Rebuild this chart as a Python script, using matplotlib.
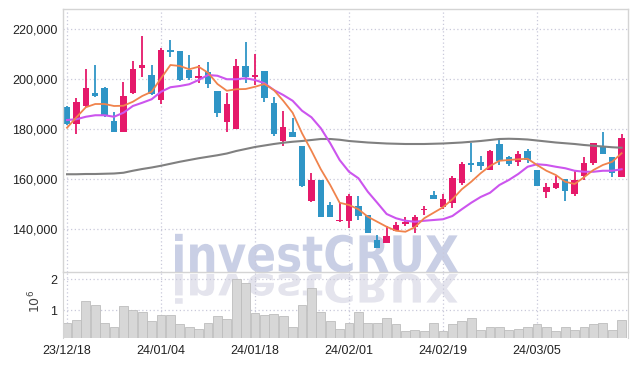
import matplotlib
matplotlib.use('Agg')
import matplotlib.pyplot as plt
from matplotlib.textpath import TextPath
from matplotlib.patches import PathPatch
from matplotlib.font_manager import FontProperties
from matplotlib.transforms import Affine2D, IdentityTransform
from matplotlib.ticker import FuncFormatter, FixedLocator
import numpy as np

# ---------------- data ----------------
opens = [188700, 182000, 189200, 194500, 196400, 183300, 178900, 194500, 204500, 201600,
         191600, 211600, 211200, 203600, 200300, 202700, 195200, 182900, 180000, 205200,
         200700, 203200, 190300, 175300, 178800, 173200, 151300, 159600, 149600, 143200,
         143300, 149200, 145600, 135600, 134500, 139300, 141900, 140700, 147500, 153500,
         148900, 150500, 158300, 166500, 166800, 163600, 174000, 168700, 166800, 171200,
         163600, 154900, 156500, 160000, 154000, 161200, 166300, 173200, 168700, 160700]
closes = [182000, 190900, 196400, 193300, 185500, 178700, 193200, 203900, 205700, 194000,
          211600, 210800, 199600, 200500, 201100, 197900, 186500, 190000, 205200, 200900,
          201600, 192500, 178000, 180700, 176900, 157300, 159600, 144900, 144900, 143600,
          153300, 145200, 138300, 132400, 137200, 141500, 142900, 144700, 147700, 151900,
          152000, 160400, 166000, 165500, 165300, 171200, 167300, 166000, 169900, 167600,
          157300, 156700, 158300, 155300, 159600, 166500, 174300, 169900, 162300, 176300]
highs = [189200, 192300, 203900, 205600, 197000, 186900, 198700, 207300, 217200, 205600,
         212300, 215600, 211200, 209600, 205600, 206700, 195200, 194500, 207900, 214700,
         210000, 203200, 192900, 187300, 184300, 173200, 162300, 159600, 150900, 150300,
         153900, 153200, 145600, 137600, 141400, 142900, 144900, 145600, 149200, 155300,
         154000, 161200, 166800, 174500, 169200, 171600, 175600, 169200, 171200, 171900,
         163600, 158300, 161200, 160000, 163600, 168700, 174500, 178900, 168700, 177900]
lows = [181600, 177900, 188900, 192900, 185000, 178700, 178900, 194200, 200900, 193600,
        190000, 208900, 199300, 199600, 198500, 196300, 184900, 178700, 180000, 198300,
        197600, 190700, 177200, 173200, 176900, 156900, 150900, 144900, 144900, 143000,
        140300, 143600, 138300, 132400, 134500, 139300, 141200, 138300, 145600, 151900,
        148000, 148300, 157600, 162900, 163600, 163600, 165600, 165200, 165200, 166500,
        157300, 152300, 155900, 151200, 153200, 159600, 165500, 169900, 160700, 160700]

ma_short = [180500, 184700, 188700, 190000, 190000, 189200, 189300, 190900, 193200, 194900,
            200300, 205600, 205200, 203900, 204900, 202500, 198000, 195300, 195900, 196000,
            196900, 198000, 195600, 191300, 186500, 178300, 171300, 163900, 157600, 150500,
            149600, 147900, 144900, 142900, 140900, 139300, 138900, 140700, 144300, 146500,
            148700, 151900, 155900, 158900, 162300, 165200, 167300, 167600, 167900, 168100,
            165600, 163300, 161600, 158900, 158000, 160700, 163600, 165600, 166900, 170300]
ma_mid = [183600, 183900, 184900, 185500, 185500, 184900, 186500, 189200, 190500, 191900,
          194900, 196700, 197200, 197900, 199600, 201600, 201300, 199900, 199900, 200300,
          199600, 198300, 195600, 193600, 191300, 187300, 184700, 180300, 174300, 167600,
          162900, 160300, 154900, 150500, 146000, 144300, 143300, 142900, 143300, 143600,
          143900, 145200, 147900, 150500, 152800, 154500, 157600, 159600, 162000, 164900,
          165900, 165600, 164900, 164300, 163300, 162900, 162900, 163300, 163300, 163900]
ma_long = [161900, 161900, 162000, 162000, 162100, 162200, 162500, 163300, 164000, 164600,
           165300, 166100, 166900, 167600, 168300, 168900, 169500, 170200, 171200, 172000,
           172800, 173400, 174000, 174500, 174900, 175200, 175600, 176000, 176000, 175700,
           175200, 174900, 174600, 174400, 174200, 174100, 174000, 174000, 174000, 174100,
           174200, 174400, 174600, 174900, 175200, 175600, 176000, 176100, 176000, 175800,
           175400, 175000, 174600, 174300, 174000, 173600, 173300, 173000, 172700, 172500]
volume = [0.57, 0.67, 1.28, 1.18, 0.57, 0.47, 1.12, 1.00, 0.93, 0.64,
          0.83, 0.83, 0.54, 0.44, 0.38, 0.60, 0.80, 0.70, 2.02, 1.89,
          0.90, 0.83, 0.89, 0.80, 0.44, 1.15, 1.70, 0.93, 0.64, 0.38,
          0.60, 0.93, 0.57, 0.57, 0.76, 0.54, 0.31, 0.35, 0.31, 0.60,
          0.31, 0.54, 0.64, 0.76, 0.35, 0.44, 0.44, 0.35, 0.38, 0.44,
          0.54, 0.47, 0.31, 0.47, 0.35, 0.44, 0.54, 0.57, 0.35, 0.67]
volume = [v * 1e6 for v in volume]
tick_pos = [0, 10, 20, 30, 40, 50]
tick_labels = ['23/12/18', '24/01/04', '24/01/18', '24/02/01', '24/02/19', '24/03/05']
price_ticks = [140000, 160000, 180000, 200000, 220000]

# ---------------- style ----------------
UP = '#e5196a'
DOWN = '#2f95c6'
GRID = '#c9c9da'
FONT = ['Liberation Sans', 'DejaVu Sans']
plt.rcParams['font.family'] = FONT

W, H = 636, 366
fig = plt.figure(figsize=(W / 100, H / 100), dpi=100)
fig.patch.set_facecolor('white')

L, R = 63, 628
ax = fig.add_axes([L / W, 1 - 272 / H, (R - L) / W, (272 - 9) / H])
axv = fig.add_axes([L / W, 1 - 338 / H, (R - L) / W, (338 - 272) / H], sharex=ax)
for a in (ax, axv):
    a.patch.set_alpha(0)

# ---------------- watermark ----------------
fp = FontProperties(family='DejaVu Sans', weight='bold')
tp = TextPath((0, 0), 'investCRUX', size=50, prop=fp)
ext = tp.get_extents()
capP = TextPath((0, 0), 'C', size=50, prop=fp).get_extents()
sx = (458 - 175) / ext.width
sy = 38 / capP.height
t_main = Affine2D().translate(-ext.x0, 0).scale(sx, sy).translate(175, H - 272)
t_refl = Affine2D().translate(-ext.x0, 0).scale(sx, -sy * 0.78).translate(175, H - 274)
p1 = PathPatch(tp, transform=t_main + IdentityTransform(), facecolor='#c9cfe5',
               edgecolor='none', zorder=-2)
p2 = PathPatch(tp, transform=t_refl + IdentityTransform(), facecolor='#e4e4ed',
               edgecolor='none', zorder=-2)
fig.add_artist(p1)
fig.add_artist(p2)

# ---------------- candles ----------------
x = np.arange(len(opens))
o = np.array(opens); c = np.array(closes)
colors = [UP if cc >= oo else DOWN for oo, cc in zip(o, c)]
ax.vlines(x, lows, highs, colors=colors, linewidth=1.3, zorder=2)
bottom = np.minimum(o, c)
height = np.maximum(np.abs(c - o), 500)
ax.bar(x, height, bottom=bottom, width=0.68, color=colors, linewidth=0, zorder=2)

ax.plot(x, ma_long, color='#808080', lw=1.5, zorder=3)
ax.plot(x, ma_mid, color='#cc55ee', lw=1.5, zorder=3)
ax.plot(x, ma_short, color='#f0834c', lw=1.3, zorder=3)

ax.set_ylim(122800, 228000)
ax.set_xlim(-0.43, 59.68)
ax.yaxis.set_major_locator(FixedLocator(price_ticks))
ax.yaxis.set_major_formatter(FuncFormatter(lambda v, p: f'{int(v):,}'))
ax.grid(True, color=GRID, linestyle=(0, (1, 2)), linewidth=0.9)
ax.set_axisbelow(True)
ax.tick_params(axis='y', length=0, pad=4, labelsize=9, labelcolor='#222222')
ax.tick_params(axis='x', length=0, labelbottom=False)
for s in ('left', 'top', 'right', 'bottom'):
    ax.spines[s].set_color('#d4d4d4')
    ax.spines[s].set_linewidth(1.0)

# ---------------- volume ----------------
axv.bar(x, volume, width=0.94, color='#d7d7d7', edgecolor='#bdbdbd', linewidth=0.6, zorder=2)
axv.set_ylim(0.1e6, 2.23e6)
axv.yaxis.set_major_locator(FixedLocator([1e6, 2e6]))
axv.yaxis.set_major_formatter(FuncFormatter(lambda v, p: f'{int(round(v / 1e6))}'))
axv.grid(True, color=GRID, linestyle=(0, (1, 2)), linewidth=0.9)
axv.set_axisbelow(True)
axv.tick_params(axis='y', length=0, pad=4, labelsize=9, labelcolor='#222222')
axv.tick_params(axis='x', length=0, pad=5, labelsize=9, labelcolor='#222222')
axv.set_xticks(tick_pos)
axv.set_xticklabels(tick_labels)
for s in ('left', 'right'):
    axv.spines[s].set_color('#d4d4d4')
axv.spines['top'].set_visible(False)
axv.spines['bottom'].set_visible(False)
axv.set_ylabel(r'$10^6$', fontsize=9, color='#444444', rotation=90)
axv.yaxis.set_label_coords(-0.035, 0.55)

fig.savefig('out.png', dpi=100)
